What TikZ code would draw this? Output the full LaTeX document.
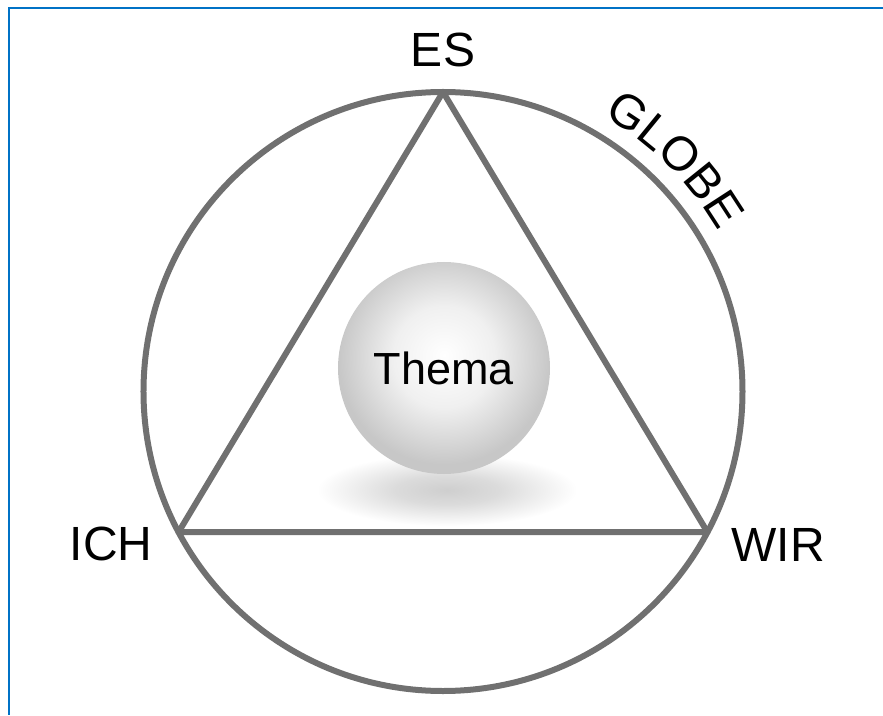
\documentclass[tikz,border=0pt]{standalone}
\usepackage{fontspec}
\setmainfont{Liberation Sans}
\usetikzlibrary{positioning,decorations.text}

\definecolor{ringgray}{RGB}{112,112,112}
\definecolor{frameblue}{RGB}{0,114,198}
\pgfdeclareradialshading{sphereshade}{\pgfpoint{0bp}{3bp}}{color(0bp)=(white); color(12bp)=(black!6); color(25bp)=(black!22); color(100bp)=(black!22)}
\pgfdeclareradialshading{shadowshade}{\pgfpointorigin}{color(0bp)=(black!19); color(10bp)=(black!14); color(25bp)=(white); color(100bp)=(white)}

\begin{document}
\begin{tikzpicture}[
    x=1pt, y=1pt,
    ring/.style={draw=ringgray, line width=6pt},
    lbl/.style={inner sep=0pt, font=\fontsize{48}{56}\selectfont},
    sphere/.style={circle, minimum size=212pt, inner sep=0pt, shading=sphereshade, font=\fontsize{45}{52}\selectfont},
]
    \useasboundingbox (-443,-323.5) rectangle (440,391.5);
    \draw[frameblue, line width=2pt] (440,383.5) -- (-434,383.5) -- (-434,-323.5);

    \shade[shading=shadowshade] (4,-98.5) ellipse (130 and 36);
    \node[sphere] (thema) at (1,23.5) {Thema};

    \node[ring, circle, minimum size=599pt, inner sep=0pt, outer sep=0pt] (globe) at (0,0) {};
    \coordinate (es) at (globe.90);
    \coordinate (ich) at (globe.208);
    \coordinate (wir) at (globe.-28);
    \draw[ring, line join=round] (es) -- (ich) -- (wir) -- cycle;

    \node[lbl, above=25pt of es] (eslbl) {ES};
    \node[lbl, left=26pt of ich, yshift=-12pt] (ichlbl) {ICH};
    \node[lbl, right=24pt of wir, yshift=-13pt] (wirlbl) {WIR};
    \path[decorate, decoration={text along path, text={|\fontsize{48}{56}\selectfont|GLOBE}, text align=center}]
        (globe.center) ++(75:319) arc[start angle=75, end angle=15, radius=319];
\end{tikzpicture}
\end{document}
